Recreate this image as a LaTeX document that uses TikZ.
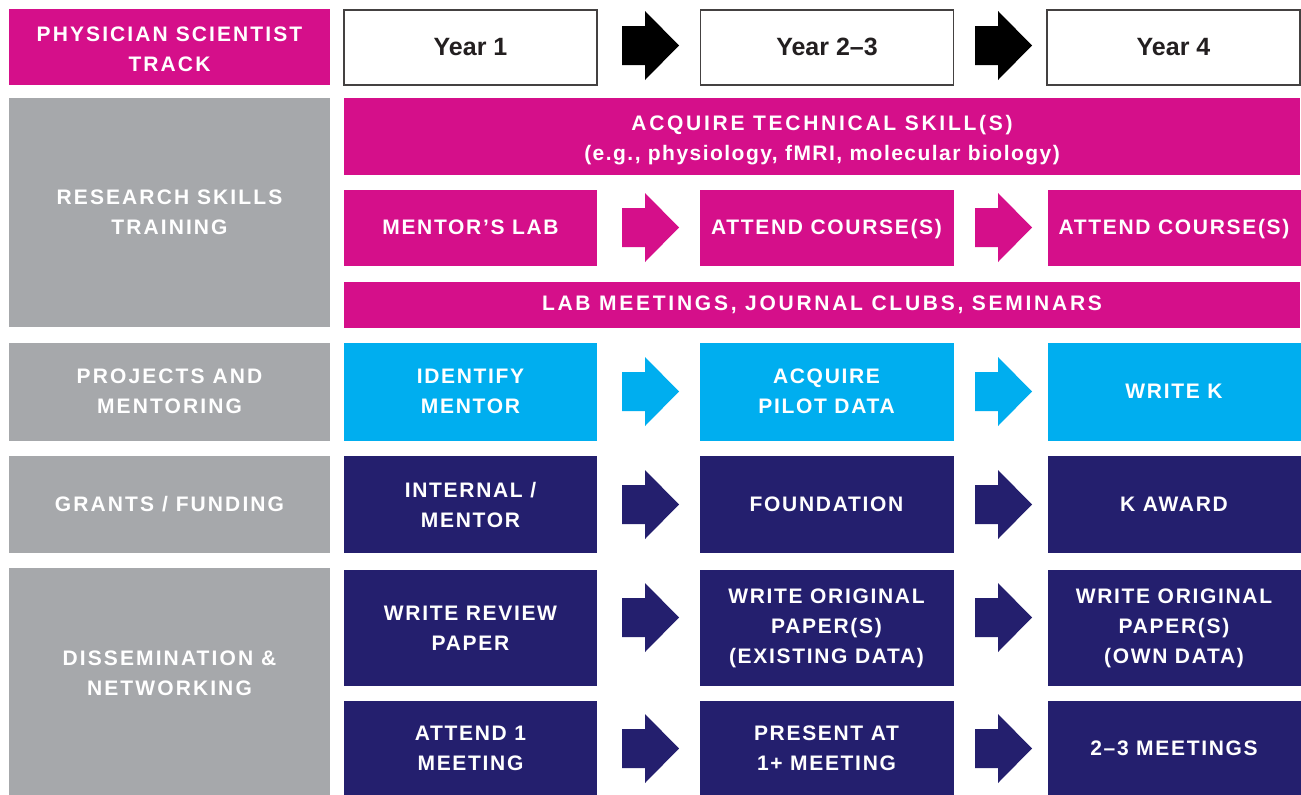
\documentclass[tikz,border=0pt]{standalone}
\usepackage{fontspec}
\setmainfont{Liberation Sans}
\newfontfamily\fWide[LetterSpace=13]{Liberation Sans}
\newfontfamily\fMid[LetterSpace=10]{Liberation Sans}
\newfontfamily\fBox[LetterSpace=8]{Liberation Sans}
\newfontfamily\fLow[LetterSpace=7]{Liberation Sans}
\definecolor{mag}{HTML}{D50F8A}
\definecolor{cyn}{HTML}{00AEEF}
\definecolor{nvy}{HTML}{241F6E}
\definecolor{gry}{HTML}{A6A8AB}
\definecolor{ink}{HTML}{231F20}
\tikzset{
  cell/.style={anchor=north west, inner sep=0pt, outer sep=0pt, align=center, text=white},
  side/.style={cell, fill=gry, font=\fMid\bfseries\fontsize{21}{30}\selectfont},
  bar/.style={cell, fill=mag, font=\fWide\bfseries\fontsize{21}{30}\selectfont},
  boxtxt/.style={cell, font=\fBox\bfseries\fontsize{21}{30}\selectfont},
  pinkbox/.style={boxtxt, fill=mag},
  cyanbox/.style={boxtxt, fill=cyn},
  navybox/.style={boxtxt, fill=nvy},
  yearbox/.style={anchor=north west, inner sep=0pt, outer sep=0pt, fill=white, draw=ink!85, line width=1.3pt, text=ink, font=\bfseries\fontsize{25}{28}\selectfont, minimum width=253, minimum height=75},
  pics/barrow/.style={code={\fill[#1] (-28.5,-19.5) -- (-5.5,-19.5) -- (-5.5,-34.5) -- (28.5,0) -- (-5.5,34.5) -- (-5.5,19.5) -- (-28.5,19.5) -- cycle;}}
}
\begin{document}
\begin{tikzpicture}[x=1pt,y=-1pt]
\useasboundingbox (0,0) rectangle (1301,795);
\fill[white] (0,0) rectangle (1301,795);
% header
\node[cell, fill=mag, font=\fMid\bfseries\fontsize{21}{30}\selectfont, minimum width=321, minimum height=76, text height=49] (hdr) at (9,9) {PHYSICIAN SCIENTIST\\TRACK};
\node[yearbox] (y1) at (344,10) {Year 1};
\node[yearbox, text depth=1] (y2) at (700.5,10) {Year 2–3};
\node[yearbox] (y4) at (1047,10) {Year 4};
\coordinate (ha1) at (650.5,45.5);
\coordinate (ha2) at (1003.5,45.5);
\pic at (ha1) {barrow=black};
\pic at (ha2) {barrow=black};
% research skills
\node[side, minimum width=321, minimum height=229] (rs) at (9,98) {RESEARCH SKILLS\\TRAINING};
\node[bar, minimum width=956, minimum height=77, text height=52] (acq) at (344,98) {ACQUIRE TECHNICAL SKILL(S)\\{\fLow\bfseries(e.g., physiology, fMRI, molecular biology)}};
\node[pinkbox, minimum width=253, minimum height=76] (ml) at (344,189.5) {MENTOR’S LAB};
\node[pinkbox, minimum width=254, minimum height=76, text depth=2] (ac1) at (699.5,189.5) {ATTEND COURSE(S)};
\node[pinkbox, minimum width=253, minimum height=76, text depth=2] (ac2) at (1047.5,189.5) {ATTEND COURSE(S)};
\coordinate (pa1) at (650.5,227.5);
\coordinate (pa2) at (1003.5,227.5);
\pic at (pa1) {barrow=mag};
\pic at (pa2) {barrow=mag};
\node[bar, minimum width=956, minimum height=46] (lab) at (344,281.5) {LAB MEETINGS, JOURNAL CLUBS, SEMINARS};
% projects
\node[side, minimum width=321, minimum height=98] (pm) at (9,342.5) {PROJECTS AND\\MENTORING};
\node[cyanbox, minimum width=253, minimum height=98] (im) at (344,342.5) {IDENTIFY\\MENTOR};
\node[cyanbox, minimum width=254, minimum height=98] (pd) at (699.5,342.5) {ACQUIRE\\PILOT DATA};
\node[cyanbox, minimum width=253, minimum height=98] (wk) at (1047.5,342.5) {WRITE K};
\coordinate (ca1) at (650.5,391.5);
\coordinate (ca2) at (1003.5,391.5);
\pic at (ca1) {barrow=cyn};
\pic at (ca2) {barrow=cyn};
% grants
\node[side, minimum width=321, minimum height=97] (gf) at (9,456) {GRANTS / FUNDING};
\node[navybox, minimum width=253, minimum height=97] (in) at (344,456) {INTERNAL /\\MENTOR};
\node[navybox, minimum width=254, minimum height=97] (fo) at (699.5,456) {FOUNDATION};
\node[navybox, minimum width=253, minimum height=97] (ka) at (1047.5,456) {K AWARD};
\coordinate (na1) at (650.5,504.5);
\coordinate (na2) at (1003.5,504.5);
\pic at (na1) {barrow=nvy};
\pic at (na2) {barrow=nvy};
% dissemination
\node[side, minimum width=321, minimum height=227, text depth=16] (dn) at (9,567.5) {DISSEMINATION \&\\NETWORKING};
\node[navybox, minimum width=253, minimum height=116] (wr) at (344,570) {WRITE REVIEW\\PAPER};
\node[navybox, minimum width=254, minimum height=116] (wo1) at (699.5,570) {WRITE ORIGINAL\\PAPER(S)\\(EXISTING DATA)};
\node[navybox, minimum width=253, minimum height=116] (wo2) at (1047.5,570) {WRITE ORIGINAL\\PAPER(S)\\(OWN DATA)};
\coordinate (da1) at (650.5,617.5);
\coordinate (da2) at (1003.5,617.5);
\pic at (da1) {barrow=nvy};
\pic at (da2) {barrow=nvy};
\node[navybox, minimum width=253, minimum height=95] (at) at (344,700.5) {ATTEND 1\\MEETING};
\node[navybox, minimum width=254, minimum height=95] (pr) at (699.5,700.5) {PRESENT AT\\1+ MEETING};
\node[navybox, minimum width=253, minimum height=95] (mt) at (1047.5,700.5) {2–3 MEETINGS};
\coordinate (ea1) at (650.5,748.5);
\coordinate (ea2) at (1003.5,748.5);
\pic at (ea1) {barrow=nvy};
\pic at (ea2) {barrow=nvy};
\end{tikzpicture}
\end{document}
